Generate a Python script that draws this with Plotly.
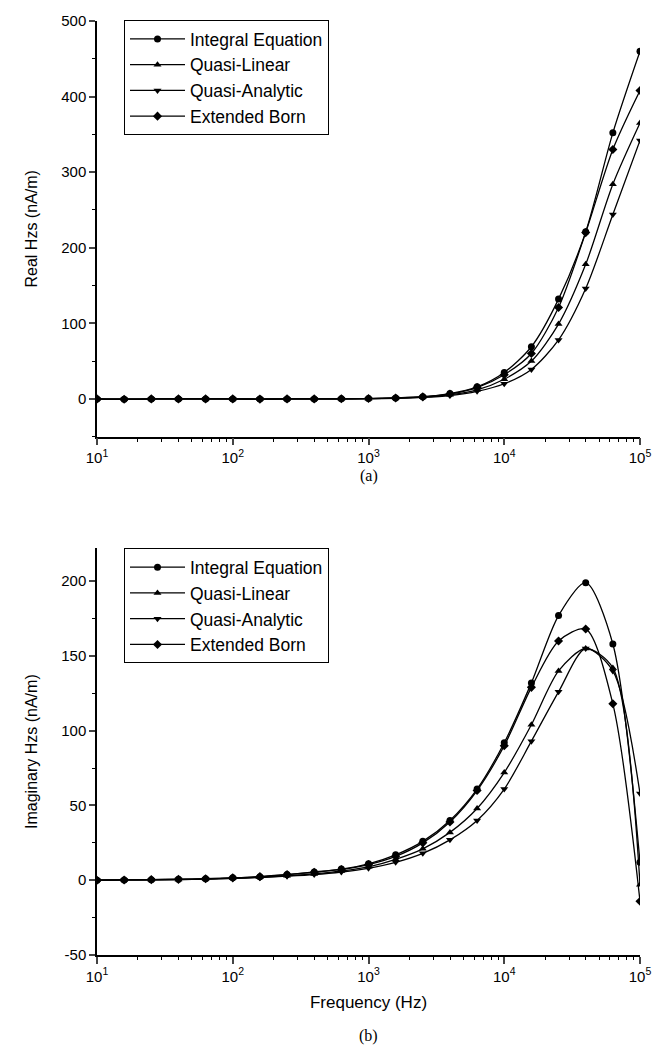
import plotly.graph_objects as go

# Frequencies (Hz): 5 points per decade from 10 to 1e5
freq = [10, 15.85, 25.12, 39.81, 63.10, 100, 158.5, 251.2, 398.1, 631.0,
        1000, 1585, 2512, 3981, 6310, 10000, 15849, 25119, 39811, 63096, 100000]

series_names = ["Integral Equation", "Quasi-Linear", "Quasi-Analytic", "Extended Born"]

# (a) Real Hzs (nA/m)
real_integral = [0, -0.5, 0, 0, 0, 0, -0.3, 0, 0, 0.1, 0.4, 1.2, 2.8, 7, 16, 35, 69, 132, 221, 352, 460]
real_qlinear = [0, -0.5, 0, 0, 0, 0, -0.3, 0, 0, 0.1, 0.3, 1.0, 2.3, 5.5, 12, 26, 50, 99, 178, 284, 365]
real_qanalytic = [0, -0.5, 0, 0, 0, 0, -0.3, 0, 0, 0.1, 0.3, 0.8, 2.0, 4.5, 10, 20, 39, 78, 146, 244, 342]
real_born = [0, -0.5, 0, 0, 0, 0, -0.3, 0, 0, 0.1, 0.4, 1.1, 2.6, 6.5, 15, 32, 60, 121, 220, 330, 408]

# (b) Imaginary Hzs (nA/m)
imag_integral = [0, 0.2, 0.4, 0.6, 1.0, 1.6, 2.4, 3.8, 5.5, 7.5, 11, 17, 26, 40, 61, 92, 132, 177, 199, 158, 12]
imag_qlinear = [0, 0.2, 0.3, 0.5, 0.8, 1.3, 2.0, 3.0, 4.2, 6.2, 9, 14, 21, 32, 48, 72, 104, 140, 155, 142, -3]
imag_qanalytic = [0, 0.2, 0.3, 0.5, 0.8, 1.2, 1.8, 2.7, 3.8, 5.5, 8, 12, 18, 27, 40, 61, 93, 126, 155, 140, 58]
imag_born = [0, 0.2, 0.4, 0.6, 1.0, 1.6, 2.4, 3.8, 5.3, 7.2, 10.5, 16, 25, 39, 60, 90, 129, 160, 168, 118, -14]

x_tick_vals = [10, 100, 1000, 10000, 100000]
x_tick_text = ["10<sup>1</sup>", "10<sup>2</sup>", "10<sup>3</sup>", "10<sup>4</sup>", "10<sup>5</sup>"]
y1_tick_vals = [0, 100, 200, 300, 400, 500]
y2_tick_vals = [-50, 0, 50, 100, 150, 200]
y2_tick_text = ["-50", "0", "50", "100", "150", "200"]

symbols = ["circle", "triangle-up", "triangle-down", "diamond"]
top_data = [real_integral, real_qlinear, real_qanalytic, real_born]
bot_data = [imag_integral, imag_qlinear, imag_qanalytic, imag_born]

FONT = "Liberation Sans, Arial, sans-serif"
SERIF = "Liberation Serif, Times New Roman, serif"

fig = go.Figure()
for name, sym, ys in zip(series_names, symbols, top_data):
    fig.add_trace(go.Scatter(
        x=freq, y=ys, name=name, mode="lines+markers",
        line=dict(color="black", width=1.3, shape="spline", smoothing=0.8),
        marker=dict(symbol=sym, size=7, color="black"),
        xaxis="x", yaxis="y", legend="legend"))
for name, sym, ys in zip(series_names, symbols, bot_data):
    fig.add_trace(go.Scatter(
        x=freq, y=ys, name=name, mode="lines+markers",
        line=dict(color="black", width=1.3, shape="spline", smoothing=0.8),
        marker=dict(symbol=sym, size=7, color="black"),
        xaxis="x2", yaxis="y2", legend="legend2"))

# empty helper traces so the minor-tick overlay axes get drawn
fig.add_trace(go.Scatter(x=[None], y=[None], xaxis="x3", yaxis="y", showlegend=False, hoverinfo="skip"))
fig.add_trace(go.Scatter(x=[None], y=[None], xaxis="x4", yaxis="y2", showlegend=False, hoverinfo="skip"))

H = 1057
t, b = 18, 102
ph = H - t - b
def py(px):
    return (H - b - px) / ph

minor_x = [m * 10 ** d for d in range(1, 5) for m in range(2, 10)]

xcommon = dict(type="log", range=[1, 5], tickvals=x_tick_vals, ticktext=x_tick_text,
               ticks="outside", ticklen=7, tickwidth=1.5, showline=True, linecolor="black",
               linewidth=1.5, showgrid=False, zeroline=False, mirror=False,
               tickfont=dict(family=FONT, size=15, color="black"))
xminor = dict(type="log", range=[1, 5], tickvals=minor_x, ticks="outside", ticklen=4,
              tickwidth=1, tickcolor="black", showticklabels=False, showline=False,
              showgrid=False, zeroline=False, side="bottom")
ycommon = dict(ticks="outside", ticklen=6, tickwidth=1.5, showline=True, linecolor="black",
               linewidth=1.5, showgrid=False, zeroline=False,
               tickfont=dict(family=FONT, size=15, color="black"))

legend_common = dict(xanchor="left", yanchor="top",
                     bordercolor="black", borderwidth=1, bgcolor="white",
                     font=dict(family=FONT, size=17.5, color="black"), itemwidth=55,
                     tracegroupgap=0)

fig.update_layout(
    width=667, height=H,
    margin=dict(l=97, r=27, t=t, b=b),
    plot_bgcolor="white", paper_bgcolor="white",
    font=dict(family=FONT, color="black"),
    xaxis=dict(domain=[0, 1], anchor="y", **xcommon),
    xaxis3=dict(overlaying="x", anchor="y", **xminor),
    yaxis=dict(domain=[py(435), 1], anchor="x", range=[-50, 500], tickvals=y1_tick_vals,
               minor=dict(ticks="outside", ticklen=3, tickwidth=1, tickcolor="black", dtick=50),
               title=dict(text="Real Hzs (nA/m)", font=dict(family=FONT, size=16), standoff=20),
               **ycommon),
    xaxis2=dict(domain=[0, 1], anchor="y2",
                title=dict(text="Frequency (Hz)", font=dict(family=FONT, size=17), standoff=12),
                **xcommon),
    xaxis4=dict(overlaying="x2", anchor="y2", **xminor),
    yaxis2=dict(domain=[0, py(547)], anchor="x2", range=[-50, 222], tickvals=y2_tick_vals,
                ticktext=y2_tick_text,
                minor=dict(ticks="outside", ticklen=3, tickwidth=1, tickcolor="black", dtick=25),
                title=dict(text="Imaginary Hzs (nA/m)", font=dict(family=FONT, size=16), standoff=20),
                **ycommon),
    legend=dict(x=(124 - 97) / 543, y=py(17), **legend_common),
    legend2=dict(x=(124 - 97) / 543, y=py(547), **legend_common),
    annotations=[
        dict(text="(a)", xref="paper", yref="paper", x=0.5, y=py(474), yanchor="middle",
             showarrow=False, font=dict(family=SERIF, size=16, color="black")),
        dict(text="(b)", xref="paper", yref="paper", x=0.5, y=py(1036), yanchor="middle",
             showarrow=False, font=dict(family=SERIF, size=16, color="black")),
    ],
)

fig.write_html("out.html")
